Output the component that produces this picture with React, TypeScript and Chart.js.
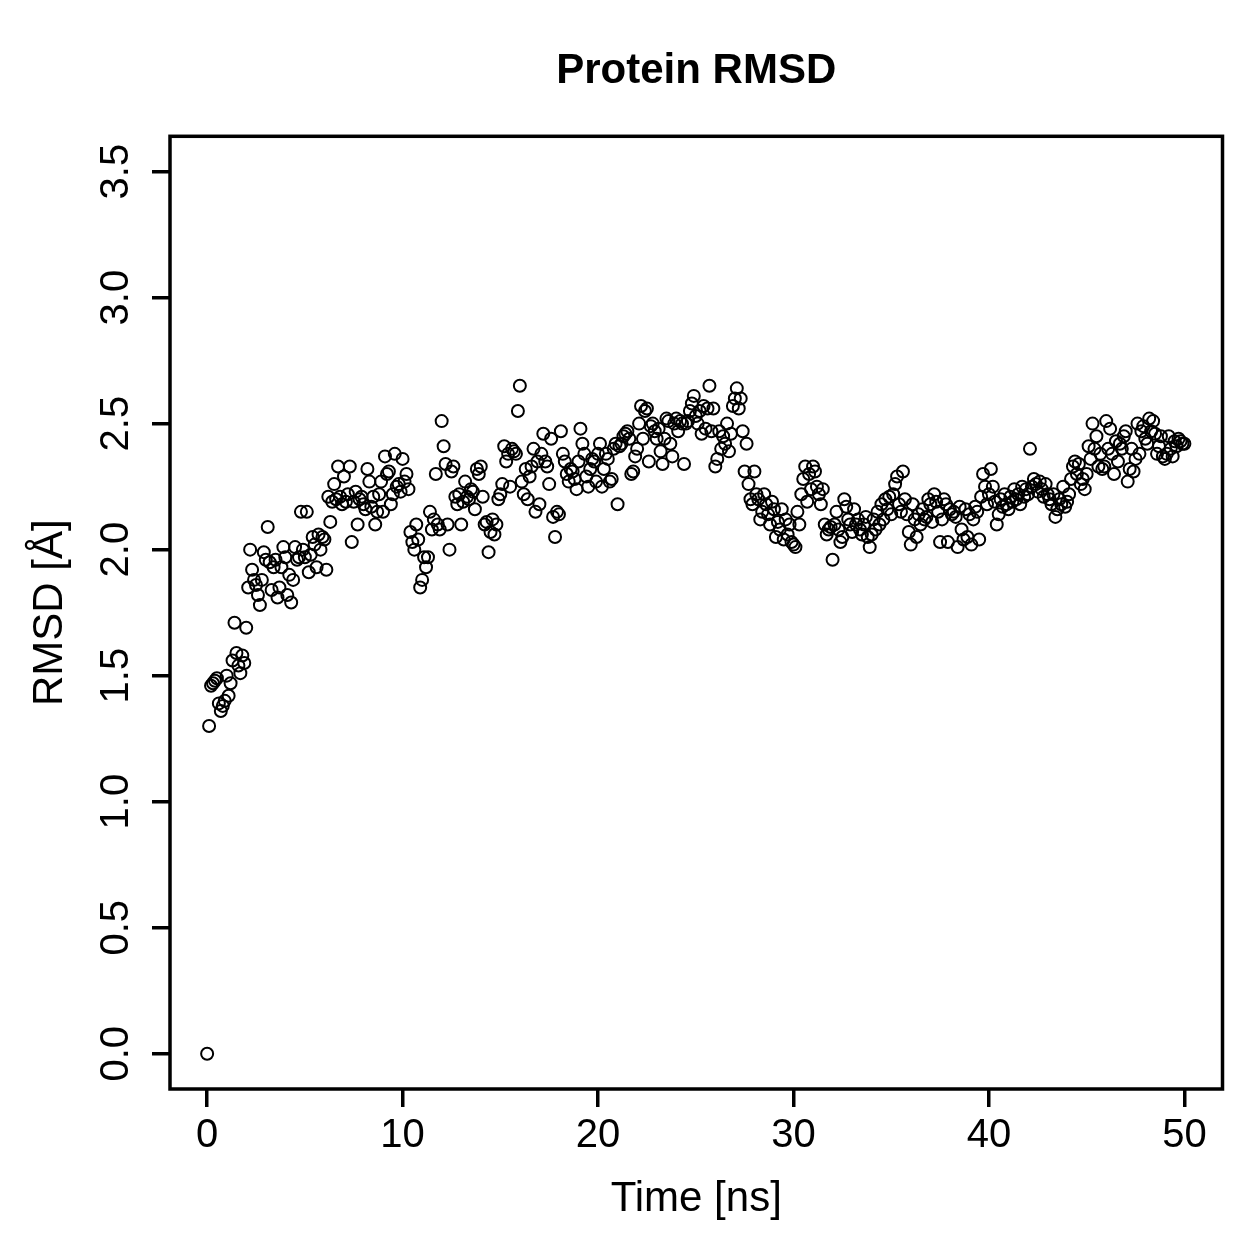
import React, { useEffect, useRef } from "react";
import { Chart, registerables } from "chart.js";

Chart.register(...registerables);

// Trajectory sampled every 0.1 ns, 0 .. 50 ns
const TIME_STEP_NS = 0.1;

const RMSD_START = [0.0];
const RMSD_00_10 = [
  1.30, 1.46, 1.47, 1.48, 1.49, 1.39, 1.36, 1.38, 1.40, 1.50,
  1.42, 1.47, 1.56, 1.71, 1.59, 1.54, 1.51, 1.58, 1.55, 1.69,
  1.85, 2.00, 1.92, 1.88, 1.86, 1.82, 1.78, 1.88, 1.99, 1.96,
  2.09, 1.95, 1.84, 1.93, 1.96, 1.81, 1.85, 1.93, 2.01, 1.97,
  1.82, 1.90, 1.79, 1.88, 2.01, 1.96, 1.97, 2.15, 2.00, 1.97,
  2.15, 1.91, 1.98, 2.05, 2.02, 1.93, 2.06, 2.00, 2.05, 2.04,
  1.92, 2.21, 2.11, 2.19, 2.26, 2.20, 2.33, 2.21, 2.18, 2.29,
  2.19, 2.22, 2.33, 2.03, 2.19, 2.23, 2.10, 2.20, 2.21, 2.18,
  2.16, 2.32, 2.27, 2.17, 2.21, 2.10, 2.15, 2.22, 2.27, 2.15,
  2.37, 2.30, 2.31, 2.18, 2.22, 2.38, 2.25, 2.26, 2.23, 2.36,
];
const RMSD_10_20 = [
  2.27, 2.30, 2.24, 2.07, 2.03, 2.00, 2.10, 2.04, 1.85, 1.88,
  1.97, 1.93, 1.97, 2.15, 2.08, 2.12, 2.30, 2.10, 2.08, 2.51,
  2.41, 2.34, 2.10, 2.00, 2.31, 2.33, 2.21, 2.18, 2.22, 2.10,
  2.19, 2.27, 2.21, 2.20, 2.24, 2.23, 2.16, 2.32, 2.30, 2.33,
  2.21, 2.10, 2.11, 1.99, 2.07, 2.12, 2.06, 2.10, 2.20, 2.22,
  2.26, 2.41, 2.35, 2.38, 2.25, 2.40, 2.39, 2.38, 2.55, 2.65,
  2.27, 2.22, 2.32, 2.20, 2.29, 2.33, 2.40, 2.15, 2.35, 2.18,
  2.38, 2.46, 2.35, 2.33, 2.26, 2.44, 2.13, 2.05, 2.15, 2.14,
  2.47, 2.38, 2.35, 2.30, 2.27, 2.32, 2.31, 2.28, 2.24, 2.35,
  2.48, 2.42, 2.38, 2.29, 2.25, 2.32, 2.36, 2.35, 2.27, 2.38,
];
const RMSD_20_30 = [
  2.42, 2.25, 2.32, 2.38, 2.36, 2.27, 2.28, 2.40, 2.42, 2.18,
  2.41, 2.42, 2.45, 2.46, 2.47, 2.44, 2.30, 2.31, 2.37, 2.40,
  2.50, 2.57, 2.44, 2.55, 2.56, 2.35, 2.49, 2.50, 2.47, 2.44,
  2.48, 2.39, 2.34, 2.44, 2.52, 2.51, 2.42, 2.37, 2.50, 2.52,
  2.47, 2.51, 2.50, 2.34, 2.50, 2.51, 2.55, 2.58, 2.61, 2.53,
  2.50, 2.55, 2.46, 2.57, 2.48, 2.56, 2.65, 2.47, 2.56, 2.33,
  2.36, 2.47, 2.40, 2.45, 2.42, 2.50, 2.39, 2.46, 2.57, 2.60,
  2.64, 2.56, 2.60, 2.47, 2.31, 2.42, 2.26, 2.20, 2.18, 2.31,
  2.22, 2.20, 2.12, 2.15, 2.22, 2.18, 2.14, 2.10, 2.19, 2.16,
  2.05, 2.11, 2.08, 2.16, 2.04, 2.12, 2.06, 2.10, 2.03, 2.02,
];
const RMSD_30_40 = [
  2.01, 2.15, 2.10, 2.22, 2.28, 2.33, 2.19, 2.30, 2.24, 2.33,
  2.31, 2.25, 2.22, 2.18, 2.24, 2.10, 2.06, 2.08, 2.09, 1.96,
  2.10, 2.15, 2.08, 2.03, 2.05, 2.20, 2.17, 2.12, 2.10, 2.07,
  2.16, 2.10, 2.12, 2.08, 2.06, 2.10, 2.13, 2.05, 2.01, 2.06,
  2.12, 2.08, 2.15, 2.10, 2.18, 2.12, 2.20, 2.16, 2.21, 2.14,
  2.22, 2.26, 2.29, 2.18, 2.15, 2.31, 2.20, 2.14, 2.07, 2.02,
  2.18, 2.12, 2.05, 2.14, 2.10, 2.16, 2.12, 2.13, 2.20, 2.18,
  2.11, 2.22, 2.19, 2.15, 2.03, 2.12, 2.20, 2.18, 2.03, 2.16,
  2.14, 2.15, 2.13, 2.01, 2.17, 2.08, 2.04, 2.16, 2.05, 2.14,
  2.02, 2.12, 2.17, 2.15, 2.04, 2.21, 2.30, 2.25, 2.18, 2.22,
];
const RMSD_40_50 = [
  2.32, 2.25, 2.19, 2.10, 2.14, 2.20, 2.17, 2.22, 2.18, 2.16,
  2.21, 2.19, 2.24, 2.20, 2.22, 2.18, 2.25, 2.21, 2.24, 2.22,
  2.40, 2.25, 2.28, 2.26, 2.23, 2.27, 2.24, 2.21, 2.26, 2.22,
  2.20, 2.18, 2.22, 2.13, 2.16, 2.20, 2.18, 2.25, 2.17, 2.19,
  2.22, 2.28, 2.33, 2.35, 2.30, 2.34, 2.26, 2.28, 2.24, 2.30,
  2.41, 2.36, 2.50, 2.40, 2.45, 2.33, 2.38, 2.32, 2.33, 2.51,
  2.40, 2.48, 2.38, 2.30, 2.43, 2.35, 2.42, 2.40, 2.45, 2.47,
  2.27, 2.32, 2.40, 2.31, 2.36, 2.50, 2.38, 2.47, 2.49, 2.44,
  2.42, 2.52, 2.47, 2.51, 2.46, 2.38, 2.41, 2.45, 2.37, 2.36,
  2.38, 2.45, 2.40, 2.37, 2.43, 2.41, 2.44, 2.43, 2.42, 2.42,
];

const X_TICKS = [0, 10, 20, 30, 40, 50];
const Y_TICKS = [0, 0.5, 1.0, 1.5, 2.0, 2.5, 3.0, 3.5];
const Y_TICK_LABELS = ["0.0", "0.5", "1.0", "1.5", "2.0", "2.5", "3.0", "3.5"];

const TITLE = "Protein RMSD";
const X_LABEL = "Time [ns]";
const Y_LABEL = "RMSD [Å]";

const FONT = '"Liberation Sans", Arial, Helvetica, sans-serif';

export default function App() {
  const ref = useRef<HTMLCanvasElement | null>(null);

  useEffect(() => {
    if (!ref.current) return;
    const rmsd = [
      ...RMSD_START,
      ...RMSD_00_10,
      ...RMSD_10_20,
      ...RMSD_20_30,
      ...RMSD_30_40,
      ...RMSD_40_50,
    ];
    const points = rmsd.map((v, i) => ({ x: Math.round(i * TIME_STEP_NS * 10) / 10, y: v }));

    const frame = {
      id: "rframe",
      afterDraw(chart: any) {
        const { ctx, chartArea } = chart;
        ctx.save();
        ctx.strokeStyle = "#000";
        ctx.lineWidth = 3.5;
        ctx.strokeRect(
          chartArea.left,
          chartArea.top,
          chartArea.right - chartArea.left,
          chartArea.bottom - chartArea.top
        );
        // rotated y tick labels (R style, las = 0)
        const ys = chart.scales.y;
        ctx.fillStyle = "#000";
        ctx.font = `40px ${FONT}`;
        ctx.textAlign = "center";
        ctx.textBaseline = "middle";
        Y_TICKS.forEach((v, i) => {
          const py = ys.getPixelForValue(v);
          ctx.save();
          ctx.translate(117, py);
          ctx.rotate(-Math.PI / 2);
          ctx.fillText(Y_TICK_LABELS[i], 0, 0);
          ctx.restore();
        });
        ctx.restore();
      },
    };

    const chart = new Chart(ref.current, {
      type: "scatter",
      data: {
        datasets: [
          {
            data: points,
            pointStyle: "circle",
            pointRadius: 6,
            pointBorderWidth: 2,
            pointBorderColor: "#000",
            pointBackgroundColor: "rgba(0,0,0,0)",
            showLine: false,
          },
        ],
      },
      options: {
        animation: false,
        responsive: false,
        devicePixelRatio: 1,
        layout: { padding: { left: 0, right: 36.5, top: 0, bottom: 0 } },
        plugins: {
          legend: { display: false },
          tooltip: { enabled: false },
          title: {
            display: true,
            fullSize: false,
            text: TITLE,
            color: "#000",
            font: { family: FONT, size: 42, weight: "bold", lineHeight: 1.2 },
            padding: { top: 46, bottom: 39.9 },
          },
        },
        scales: {
          x: {
            type: "linear",
            min: -1.9,
            max: 51.95,
            afterBuildTicks: (s: any) => {
              s.ticks = X_TICKS.map((v) => ({ value: v }));
            },
            afterFit: (s: any) => {
              s.height = 170;
            },
            grid: {
              drawOnChartArea: false,
              drawTicks: true,
              tickLength: 18,
              lineWidth: 3.5,
              color: "#000",
            },
            border: { display: false },
            ticks: {
              color: "#000",
              font: { family: FONT, size: 40 },
              padding: 5,
              maxRotation: 0,
              minRotation: 0,
              autoSkip: false,
              callback: (v: any) => String(v),
            },
            title: {
              display: true,
              text: X_LABEL,
              color: "#000",
              font: { family: FONT, size: 42, lineHeight: 1.2 },
              padding: { top: 0, bottom: 34 },
            },
          },
          y: {
            type: "linear",
            min: -0.14,
            max: 3.64,
            afterBuildTicks: (s: any) => {
              s.ticks = Y_TICKS.map((v) => ({ value: v }));
            },
            afterFit: (s: any) => {
              s.width = 170;
            },
            grid: {
              drawOnChartArea: false,
              drawTicks: true,
              tickLength: 18,
              lineWidth: 3.5,
              color: "#000",
            },
            border: { display: false },
            ticks: {
              display: false,
            },
            title: {
              display: true,
              text: Y_LABEL,
              color: "#000",
              font: { family: FONT, size: 42, lineHeight: 1.2 },
              padding: { top: 25, bottom: 0 },
            },
          },
        },
      },
      plugins: [frame],
    });

    return () => chart.destroy();
  }, []);

  return (
    <div style={{ position: "fixed", left: 0, top: 0, width: 1259, height: 1259, background: "#fff" }}>
      <canvas ref={ref} width={1259} height={1259} style={{ width: 1259, height: 1259 }} />
    </div>
  );
}
